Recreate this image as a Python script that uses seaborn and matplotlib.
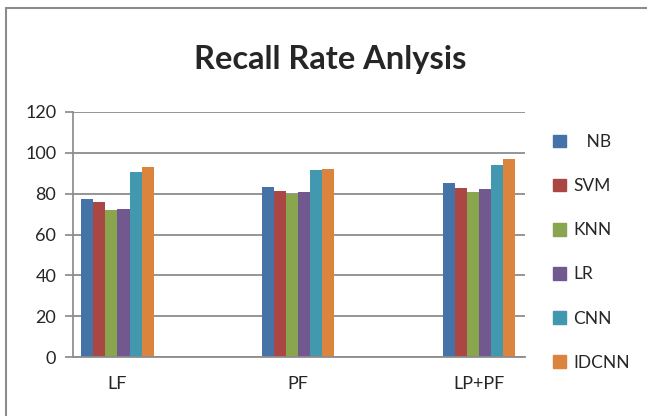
import pandas as pd
import seaborn as sns
import matplotlib.pyplot as plt
from matplotlib.patches import Rectangle
from matplotlib.lines import Line2D


features = ["LF", "PF", "LP+PF"]
models = ["NB", "SVM", "KNN", "LR", "CNN", "IDCNN"]
nb = [77.5, 83.5, 85]
svm = [76, 81.2, 83]
knn = [72, 80, 81]
lr = [72.5, 80.7, 82.5]
cnn = [90.5, 91.7, 94.2]
idcnn = [93, 92.3, 96.8]
colors = ["#4572A7", "#AA4643", "#89A54E", "#71588F", "#4198AF", "#DB843D"]

df = pd.DataFrame({"Feature": features, "NB": nb, "SVM": svm, "KNN": knn,
                   "LR": lr, "CNN": cnn, "IDCNN": idcnn})
long_df = df.melt(id_vars="Feature", value_vars=models,
                  var_name="Model", value_name="Recall")

sns.set_theme(style="white")
plt.rcParams["font.family"] = ["Lato", "DejaVu Sans"]

fig = plt.figure(figsize=(6.47, 4.16), dpi=100)
ax = fig.add_axes([73 / 647, 59 / 416, 452 / 647, 245 / 416])

sns.barplot(data=long_df, x="Feature", y="Recall", hue="Model",
            palette=colors, width=0.40, dodge=True, ax=ax,
            edgecolor="none", saturation=1, legend=False)

ax.set_ylim(0, 120)
ax.set_yticks(range(0, 121, 20))
ax.set_xlim(-0.246, 2.254)
ax.yaxis.grid(True, color="#8c8c8c", linewidth=1.3)
ax.set_axisbelow(True)
ax.set_xlabel("")
ax.set_ylabel("")
for s in ["top", "right"]:
    ax.spines[s].set_visible(False)
ax.spines["left"].set_color("#8c8c8c")
ax.spines["bottom"].set_color("#8c8c8c")
ax.spines["bottom"].set_linewidth(1.3)
ax.tick_params(axis="y", length=6, color="#8c8c8c", labelsize=13, left=True, pad=6)
ax.tick_params(axis="x", length=0, labelsize=13, pad=14)

fig.text(0.51, 0.857, "Recall Rate Anlysis", ha="center", va="center",
         fontsize=23.5, fontweight="bold")

handles = [Rectangle((0, 0), 1, 1, color=c) for c in colors]
labels = ["   NB"] + models[1:]
fig.legend(handles, labels, loc="upper left", bbox_to_anchor=(553 / 647, 1 - 134 / 416),
           frameon=False, fontsize=12.5, handlelength=0.75, handleheight=0.75,
           handletextpad=0.4, labelspacing=1.62, borderpad=0, borderaxespad=0)

# outer chart frame (only top and left edges are visible in the crop)
top = 1 - 8 / 416
left = 6 / 647
fig.add_artist(Line2D([left, 1], [top, top], transform=fig.transFigure,
                      color="#8c8c8c", linewidth=1.5))
fig.add_artist(Line2D([left, left], [0, top], transform=fig.transFigure,
                      color="#8c8c8c", linewidth=1.5))

fig.savefig("out.png", dpi=100)
